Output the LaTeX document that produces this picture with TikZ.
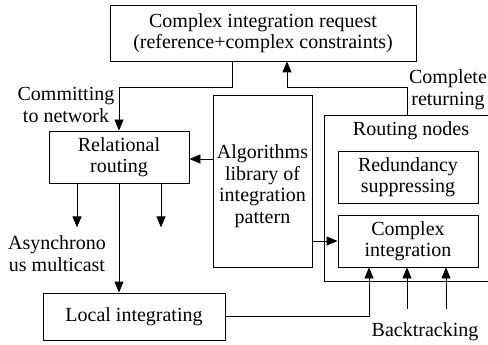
\documentclass[tikz,border=0pt]{standalone}
\usepackage{fontspec}
\setmainfont{Liberation Serif}
\newfontfamily\tnr{Liberation Serif}
\usetikzlibrary{arrows.meta}
\begin{document}
\begin{tikzpicture}[x=1pt,y=-1pt,
  txt/.style={font=\tnr\fontsize{20}{21.5}\selectfont, align=center, inner sep=0pt},
  box/.style={txt, draw, line width=0.8pt},
  lbl/.style={txt},
  ln/.style={line width=0.8pt},
  arr/.style={ln, -{Triangle[length=11pt,width=9pt]}}]
\useasboundingbox[fill=white] (0,0) rectangle (488,345);
% boxes
\node[box, minimum width=306pt, minimum height=56pt] (top) at (263,33)
  {Complex integration request\\(reference+complex constraints)};
\node[box, minimum width=140pt, minimum height=52pt] (rel) at (119,157) {Relational\\routing};
\node[box, minimum width=99pt, minimum height=172pt] (alg) at (262.5,181) {};
\node[lbl] (algtxt) at (262.5,186) {Algorithms\\library of\\integration\\pattern};
\node[draw, ln, inner sep=0pt, minimum width=176pt, minimum height=166pt] (outer) at (412,198) {};
\node[lbl] (rnlbl) at (411,131) {Routing nodes};
\node[box, minimum width=140pt, minimum height=52pt] (red) at (408,177) {Redundancy\\suppressing};
\node[box, minimum width=140pt, minimum height=52pt] (cpx) at (408,241) {Complex\\integration};
\node[box, minimum width=182pt, minimum height=47pt] (loc) at (134,316.5) {Local integrating};
% labels
\node[lbl] (commit) at (66,105) {Committing\\to network};
\node[lbl] (async) at (57,253.5) {Asynchrono\\us multicast};
\node[lbl] (complete) at (448,89.5) {Complete\\returning};
\node[lbl] (back) at (425,332) {Backtracking};
% connectors
\draw[arr] ([xshift=-31pt]top.south) -- ++(0,26) -| (rel.north);
\draw[arr] ([xshift=-5pt]outer.north) -- ++(0,-27) -| ([xshift=24pt]top.south);
\draw[arr] ([yshift=22pt]alg.west) -- ([yshift=22pt]alg.west -| rel.east);
\draw[arr] (alg.east |- cpx.west) -- (cpx.west);
\draw[arr] ([xshift=-42pt]rel.south) -- ++(0,44);
\draw[arr] ([xshift=42pt]rel.south) -- ++(0,44);
\draw[arr] (rel.south) -- (rel.south |- loc.north);
\draw[arr] (loc.east) -| ([xshift=-39pt]cpx.south);
\coordinate (b1) at (407,309);
\coordinate (b2) at (446,309);
\draw[arr] (b1) -- (b1 |- cpx.south);
\draw[arr] (b2) -- (b2 |- cpx.south);
\end{tikzpicture}
\end{document}
